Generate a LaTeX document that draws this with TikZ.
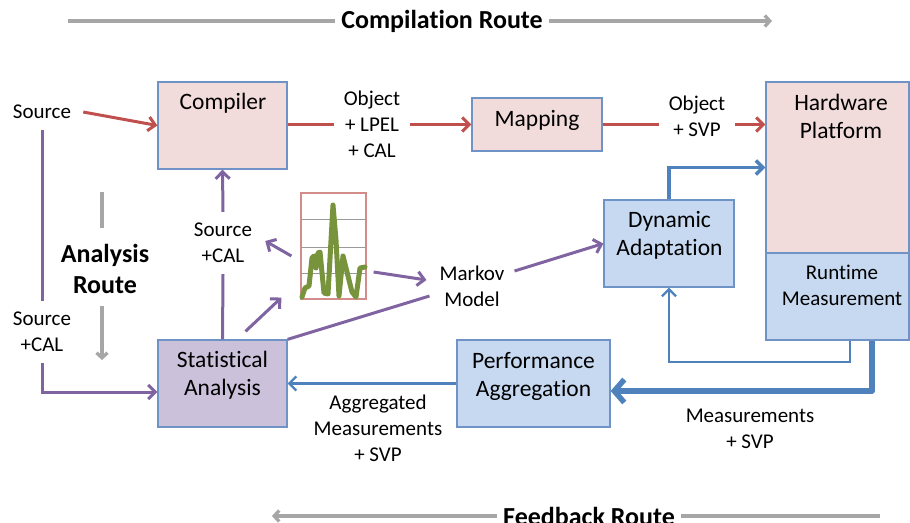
\documentclass[tikz,border=0pt]{standalone}
\usepackage{fontspec}
\setmainfont[Ligatures=NoCommon]{Carlito}
\usetikzlibrary{arrows.meta,calc,shadows}

\definecolor{boxline}{HTML}{6F93C6}
\definecolor{pinkfill}{HTML}{F2DCDB}
\definecolor{bluefill}{HTML}{C6D9F1}
\definecolor{purplefill}{HTML}{CCC1DA}
\definecolor{redline}{HTML}{C0504D}
\definecolor{purpleline}{HTML}{8064A2}
\definecolor{blueline}{HTML}{4F81BD}
\definecolor{routegray}{HTML}{A6A6A6}
\definecolor{chartgreen}{HTML}{77933C}
\definecolor{chartframe}{HTML}{D48C8A}
\definecolor{gridgray}{HTML}{9A9A9A}

\tikzset{barbtip/.tip={Straight Barb[length=7pt,width=14pt]}}

\begin{document}
\begin{tikzpicture}[x=1pt,y=-1pt,
  box/.style={draw=boxline, line width=1.3pt, inner sep=0pt,
    drop shadow={shadow xshift=1.3pt, shadow yshift=-1.3pt, opacity=.25}},
  boxtext/.style={font=\fontsize{23.5}{28}\selectfont, align=center, inner sep=0pt},
  smalltext/.style={font=\fontsize{21}{26}\selectfont, align=center, inner sep=0pt},
  lbl/.style={font=\fontsize{21}{26}\selectfont, align=center, inner xsep=10pt, inner ysep=11pt},
  routetitle/.style={font=\bfseries\fontsize{26}{31}\selectfont, align=center, inner xsep=6pt, inner ysep=0pt},
  routeplain/.style={draw=routegray, line width=3.3pt},
  routearrow/.style={routeplain, -{Straight Barb[length=5pt,width=11pt]}},
  redplain/.style={draw=redline, line width=3pt},
  redarrow/.style={redplain, -{barbtip}},
  purpleplain/.style={draw=purpleline, line width=3pt},
  purplearrow/.style={purpleplain, -{barbtip}},
  bluethin/.style={draw=blueline, line width=2.3pt, -{barbtip}},
  bluemid/.style={draw=blueline, line width=3.6pt, -{barbtip}},
  bluethick/.style={draw=blueline, line width=5.5pt, line join=round,
    -{Straight Barb[length=10pt,width=23pt]}},
]
\useasboundingbox (0,0) rectangle (910,522);

% ---- route titles ----
\node[routetitle] (comproute) at (442,21) {Compilation Route};
\coordinate (compStart) at (68,21);
\coordinate (compEnd) at (772,21);
\draw[routeplain] (compStart) -- (comproute.west);
\draw[routearrow] (comproute.east) -- (compEnd);

\node[routetitle] (fbroute) at (589,516) {Feedback Route};
\coordinate (fbStart) at (880,516);
\coordinate (fbEnd) at (272,516);
\draw[routeplain] (fbStart) -- (fbroute.east);
\draw[routearrow] (fbroute.west) -- (fbEnd);

\node[routetitle] (anroute) at (105,269) {Analysis\\Route};
\coordinate (anA) at (102,192);
\coordinate (anB) at (102,228);
\coordinate (anC) at (102,306);
\coordinate (anD) at (102,360);
\draw[routeplain] (anA) -- (anB);
\draw[routearrow] (anC) -- (anD);

% ---- boxes ----
\node[box, fill=pinkfill, minimum width=129pt, minimum height=87pt] (compiler) at (222.5,125.5) {};
\node[boxtext] (compilerT) at (223,103) {Compiler};

\node[box, fill=pinkfill, minimum width=130pt, minimum height=53pt] (mapping) at (537,124.5) {};
\node[boxtext] (mappingT) at (537,120) {Mapping};

\node[box, fill=pinkfill, minimum width=143pt, minimum height=171pt] (hw) at (837.5,167.5) {};
\node[boxtext] (hwT) at (841,116) {Hardware\\Platform};
\node[box, fill=bluefill, minimum width=143pt, minimum height=87pt] (rt) at (837.5,296.5) {};
\node[smalltext] (rtT) at (842,285) {Runtime\\Measurement};

\node[box, fill=bluefill, minimum width=130pt, minimum height=87pt] (dyn) at (669,243.5) {};
\node[boxtext] (dynT) at (669.5,235.5) {Dynamic\\Adaptation};

\node[box, fill=purplefill, minimum width=129pt, minimum height=87pt] (stat) at (222.5,383.5) {};
\node[boxtext] (statT) at (222.5,375.5) {Statistical\\Analysis};

\node[box, fill=bluefill, minimum width=153pt, minimum height=87pt] (perf) at (533.5,383.5) {};
\node[boxtext] (perfT) at (533.5,376.5) {Performance\\Aggregation};

% ---- small chart ----
\node[draw=chartframe, line width=1.2pt, fill=white, minimum width=65pt, minimum height=106pt, inner sep=0pt] (chart) at (333.5,246) {};
\foreach \gy in {219,247,273}
  \draw[gridgray, line width=1pt] (301,\gy) -- (366,\gy);
\draw[chartgreen, line width=5pt, line join=round, line cap=round]
  (302,297) -- (305,288) -- (309,286) -- (312,258) -- (314,256) -- (316,268)
  -- (318,253) -- (320,252) -- (324,293) -- (328,294) -- (333,205) -- (336,240)
  -- (339,296) -- (343,256) -- (352,292) -- (356,297) -- (360,268) -- (365,267);

% ---- labels ----
\node[lbl] (srcA) at (42,112) {Source};
\node[lbl] (srcB) at (42,332) {Source\\+CAL};
\node[lbl] (srcC) at (223,243) {Source\\+CAL};
\node[lbl] (lpel) at (372,124) {Object\\+ LPEL\\+ CAL};
\node[lbl] (svp) at (697,116) {Object\\+ SVP};
\node[lbl] (markov) at (472,286) {Markov\\Model};
\node[lbl] (aggm) at (378,428) {Aggregated\\Measurements\\+ SVP};
\node[lbl] (meas) at (750,429) {Measurements\\+ SVP};

% ---- compilation path (red) ----
\draw[redarrow] ([xshift=2pt]srcA.east) -- (compiler.west);
\draw[redplain] (compiler.east |- mapping.west) -- (lpel.west |- mapping.west);
\draw[redarrow] (lpel.east |- mapping.west) -- (mapping.west);
\draw[redplain] (mapping.east) -- (mapping.east -| svp.west);
\draw[redarrow] (svp.east |- mapping.east) -- (mapping.east -| hw.west);

% ---- analysis path (purple) ----
\draw[purpleplain] (srcA.south) -- (srcB.north);
\draw[purplearrow] (srcB.south) |- ($(stat.west)+(0,8.5)$);
\draw[purpleplain] (stat.north) -- (srcC.south);
\draw[purplearrow] (srcC.north) -- (compiler.south);
\draw[purplearrow] ($(chart.west)+(-9,10)$) -- ($(srcC.east)+(3,-2)$);
\draw[purplearrow] ($(stat.north)+(23,-8)$) -- ($(chart.south west)+(-19,-2)$);
\draw[purpleplain] (stat.north east) -- ($(markov.west)+(0,10)$);
\draw[purplearrow] ($(chart.east)+(7,26)$) -- ($(markov.west)+(-3,-6)$);
\draw[purplearrow] ($(markov.east)+(0,-15)$) -- (dyn.west);

% ---- feedback path (blue) ----
\draw[bluemid] (dyn.north) |- (hw.west);
\coordinate (loopR) at (850,362);
\draw[bluethin] (rt.south -| loopR) -- (loopR) -| (dyn.south);
\coordinate (feedR) at (872,391);
\draw[bluethick] (rt.south -| feedR) -- (feedR) -- (feedR -| perf.east);
\draw[bluethin] (perf.west) -- (stat.east);
\end{tikzpicture}
\end{document}
